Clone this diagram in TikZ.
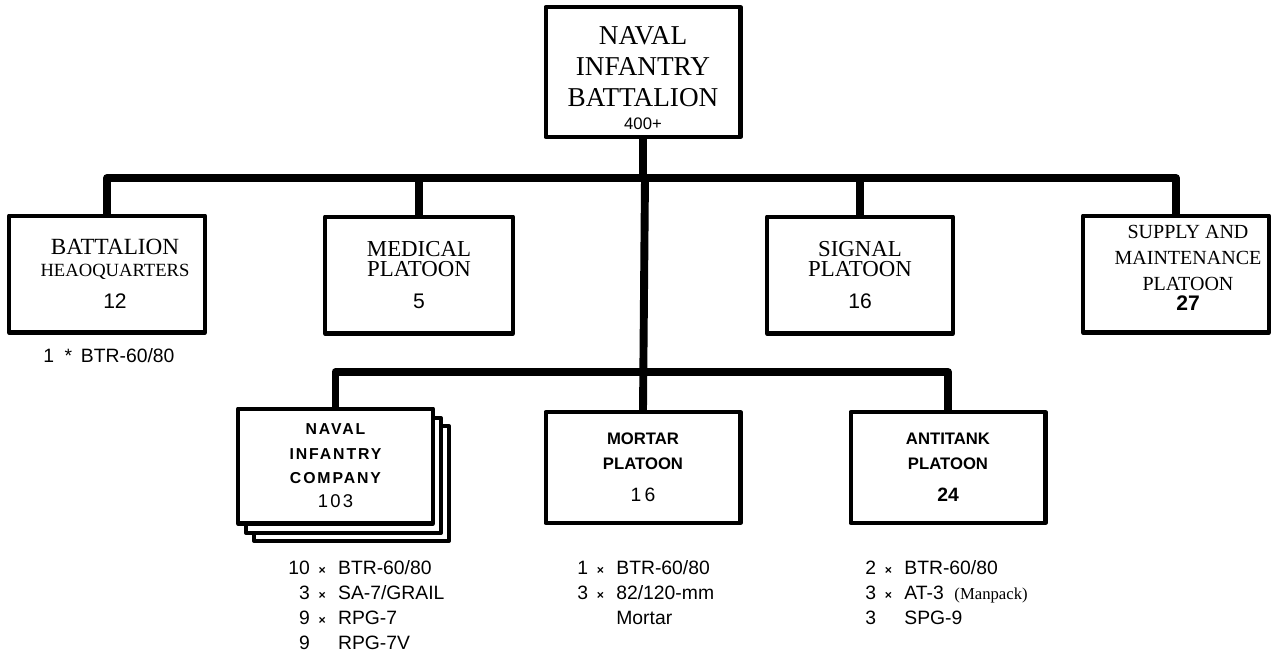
\documentclass[tikz,border=0pt]{standalone}
\usepackage{fontspec}
\setmainfont{Liberation Serif}
\setsansfont{Liberation Sans}
\newfontfamily\widesans[LetterSpace=12]{Liberation Sans}
\usetikzlibrary{positioning}
\newcommand{\bycount}{{\fontsize{7}{7}\selectfont\bfseries ×}}

\begin{document}
\begin{tikzpicture}[x=0.02cm,y=-0.02cm,line cap=round,line join=round,
	unit/.style={draw=black,line width=2.3pt,fill=white,align=center,inner sep=0pt,
		minimum width=3.9cm,minimum height=2.34cm},
	bar/.style={line width=4.5pt},
	eqlist/.style={anchor=north west,inner sep=0pt,font=\fontsize{11}{14.2}\selectfont\sffamily}]
	\useasboundingbox (0,0) rectangle (1272,657);
	% battalion
	\node[unit,minimum height=2.6cm,label={[align=center,yshift=-0.12cm,font=\fontsize{15.5}{17.8}\selectfont]center:%
		NAVAL\\INFANTRY\\BATTALION\\[-5pt]{\sffamily\fontsize{9.5}{9.5}\selectfont 400+}}] (bn) at (643,72) {};
	% first row
	\node[unit,minimum width=3.92cm,label={[align=center,xshift=0.16cm,font=\fontsize{13.2}{12.5}\selectfont]center:%
		BATTALION\\{\fontsize{10.6}{12.5}\selectfont HEAOQUARTERS}\\[6pt]{\sffamily\fontsize{12}{12}\selectfont 12}}] (hq) at (107,274) {};
	\node[unit,minimum width=3.76cm,font=\fontsize{13}{11.5}\selectfont] (med) at (419,275)
		{MEDICAL\\PLATOON\\[7pt]{\sffamily\fontsize{12}{12}\selectfont 5}};
	\node[unit,minimum width=3.72cm,font=\fontsize{13}{11.5}\selectfont] (sig) at (860,275)
		{SIGNAL\\PLATOON\\[7pt]{\sffamily\fontsize{12}{12}\selectfont 16}};
	\node[unit,minimum width=3.72cm,label={[align=center,xshift=0.24cm,yshift=0.12cm,font=\fontsize{11.4}{14.7}\selectfont]center:%
		SUPPLY AND\\MAINTENANCE\\PLATOON\\[-3.5pt]{\sffamily\bfseries\fontsize{12}{12}\selectfont 27}}] (sup) at (1176,274) {};
	% second row
	\node[unit,minimum height=2.3cm] (co3) at (351.5,483.5) {};
	\node[unit,minimum height=2.3cm] (co2) at (343.5,475.5) {};
	\node[unit,minimum height=2.3cm,font=\fontsize{9}{13.8}\selectfont\widesans\bfseries] (co) at (335.5,466)
		{NAVAL\\INFANTRY\\COMPANY\\{\mdseries\fontsize{10.5}{13.8}\selectfont 103}};
	\node[unit,minimum height=2.22cm,font=\fontsize{9.5}{14}\selectfont\sffamily\bfseries] (mor) at (643,467.5)
		{MORTAR\\PLATOON\\[4.7pt]{\mdseries\fontsize{11}{14}\selectfont 1\,6}};
	\node[unit,minimum height=2.22cm,font=\fontsize{9.5}{14}\selectfont\sffamily\bfseries] (at) at (948,467.5)
		{ANTITANK\\PLATOON\\[4.7pt]{\fontsize{11}{14}\selectfont 24}};
	% connectors
	\coordinate (bar1) at (645,178);
	\coordinate (bar2) at (645,372);
	\draw[bar] (bn.south) -- (bn.south |- bar1);
	\draw[bar] (hq.north) |- (bar1) -| (sup.north);
	\draw[bar] (med.north) -- (med.north |- bar1);
	\draw[bar] (sig.north) -- (sig.north |- bar1);
	\draw[bar] (bar1) -- (mor.north);
	\draw[bar] (co.north) |- (bar2) -| (at.north);
	% equipment
	\node[eqlist] (hqeq) at (43,345) {\begin{tabular}{@{}r@{\hspace{6pt}}c@{\hspace{5pt}}l@{}}
		1 & * & BTR-60/80\end{tabular}};
	\node[eqlist] (coeq) at (288,557) {\begin{tabular}{@{}r@{\hspace{5pt}}c@{\hspace{7pt}}l@{}}
		10 & \bycount & BTR-60/80\\
		3 & \bycount & SA-7/GRAIL\\
		9 & \bycount & RPG-7\\
		9 & & RPG-7V\end{tabular}};
	\node[eqlist] (moreq) at (577,557) {\begin{tabular}{@{}r@{\hspace{5pt}}c@{\hspace{7pt}}l@{}}
		1 & \bycount & BTR-60/80\\
		3 & \bycount & 82/120-mm\\
		& & Mortar\end{tabular}};
	\node[eqlist] (ateq) at (865,557) {\begin{tabular}{@{}r@{\hspace{5pt}}c@{\hspace{7pt}}l@{}}
		2 & \bycount & BTR-60/80\\
		3 & \bycount & AT-3 \ {\rmfamily\fontsize{9.5}{9.5}\selectfont(Manpack)}\\
		3 & & SPG-9\end{tabular}};
\end{tikzpicture}
\end{document}
